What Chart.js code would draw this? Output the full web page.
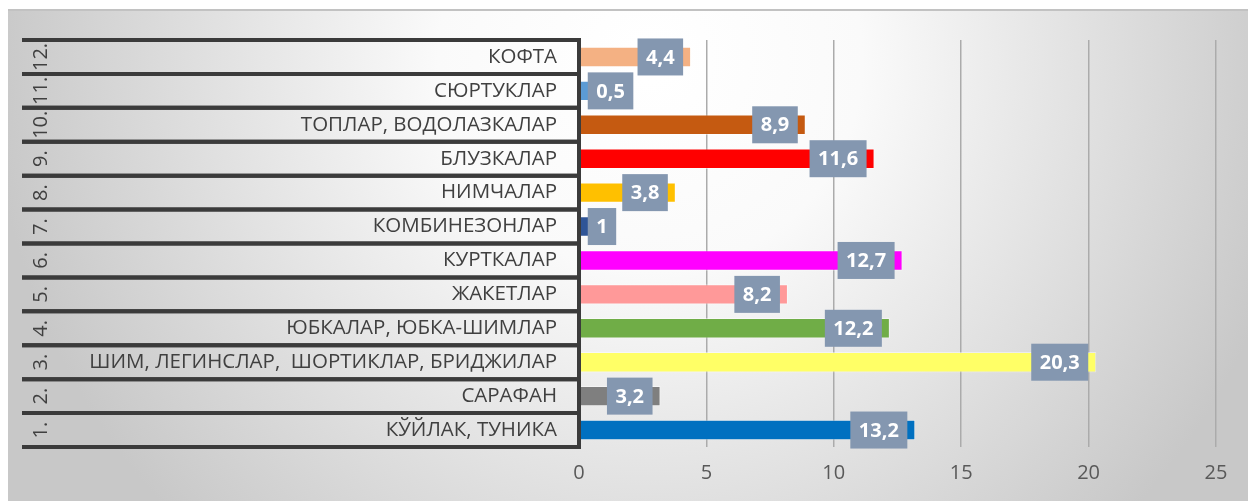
<!DOCTYPE html>
<html>
<head>
<meta charset="utf-8">
<script src="https://cdn.jsdelivr.net/npm/chart.js@4"></script>
<style>
  html, body { margin: 0; padding: 0; background: #ffffff; }
  #chart { display: block; }
</style>
</head>
<body>
<canvas id="chart" width="1248" height="501"></canvas>
<script>
// категориялар (1. дан 12. гача, пастдан юқорига)
const categories = [
    'КЎЙЛАК, ТУНИКА',
    'САРАФАН',
    'ШИМ, ЛЕГИНСЛАР,  ШОРТИКЛАР, БРИДЖИЛАР',
    'ЮБКАЛАР, ЮБКА-ШИМЛАР',
    'ЖАКЕТЛАР',
    'КУРТКАЛАР',
    'КОМБИНЕЗОНЛАР',
    'НИМЧАЛАР',
    'БЛУЗКАЛАР',
    'ТОПЛАР, ВОДОЛАЗКАЛАР',
    'СЮРТУКЛАР',
    'КОФТА'
];
const rowNumbers = ['1.', '2.', '3.', '4.', '5.', '6.', '7.', '8.', '9.', '10.', '11.', '12.'];
const values = [13.2, 3.2, 20.3, 12.2, 8.2, 12.7, 1, 3.8, 11.6, 8.9, 0.5, 4.4];
const barColors = [
    '#0070c0', '#7f7f7f', '#ffff66', '#70ad47', '#ff9999', '#ff00ff',
    '#2f5597', '#ffc000', '#ff0000', '#c55a11', '#5b9bd5', '#f4b183'
];
const xTicks = [0, 5, 10, 15, 20, 25];

const FONT = '"Open Sans", "DejaVu Sans", sans-serif';

// фон: кулранг-оқ градиент
const backgroundPlugin = {
    id: 'backgroundPlugin',
    beforeDraw(chart) {
        const ctx = chart.ctx;
        ctx.save();
        ctx.fillStyle = '#ffffff';
        ctx.fillRect(0, 0, chart.width, chart.height);
        const g = ctx.createRadialGradient(650, 60, 20, 650, 60, 660);
        g.addColorStop(0, '#ffffff');
        g.addColorStop(0.3, '#fafafa');
        g.addColorStop(1, '#c8c8c8');
        ctx.fillStyle = g;
        ctx.fillRect(8, 10, chart.width - 8, chart.height - 10);
        ctx.strokeStyle = '#c2c2c2';
        ctx.lineWidth = 2;
        ctx.beginPath();
        ctx.moveTo(8, 10);
        ctx.lineTo(chart.width, 10);
        ctx.stroke();
        ctx.restore();
    }
};

// чап томондаги жадвал чизиқлари ва рақамлар
const tablePlugin = {
    id: 'tablePlugin',
    afterDraw(chart) {
        const ctx = chart.ctx;
        const yScale = chart.scales.y;
        const area = chart.chartArea;
        const half = Math.abs(yScale.getPixelForValue(1) - yScale.getPixelForValue(0)) / 2;
        ctx.save();
        ctx.strokeStyle = '#3b3b3b';
        ctx.lineWidth = 4;
        for (let i = 0; i < categories.length; i++) {
            const c = yScale.getPixelForValue(i);
            [c - half, c + half].forEach(function (y) {
                ctx.beginPath();
                ctx.moveTo(22, y);
                ctx.lineTo(area.left + 2, y);
                ctx.stroke();
            });
        }
        ctx.beginPath();
        ctx.moveTo(area.left, area.top - 2);
        ctx.lineTo(area.left, area.bottom + 2);
        ctx.stroke();

        ctx.fillStyle = '#404040';
        ctx.font = '20px ' + FONT;
        ctx.textAlign = 'center';
        ctx.textBaseline = 'middle';
        for (let i = 0; i < rowNumbers.length; i++) {
            const c = yScale.getPixelForValue(i);
            ctx.save();
            ctx.translate(41, c);
            ctx.rotate(-Math.PI / 2);
            ctx.fillText(rowNumbers[i], 0, 0);
            ctx.restore();
        }
        ctx.restore();
    }
};

// қиймат ёрлиқлари (кулранг-кўк қутичалар)
const valueLabelPlugin = {
    id: 'valueLabelPlugin',
    afterDatasetsDraw(chart) {
        const ctx = chart.ctx;
        const meta = chart.getDatasetMeta(0);
        ctx.save();
        ctx.font = 'bold 20px ' + FONT;
        ctx.textAlign = 'center';
        ctx.textBaseline = 'middle';
        meta.data.forEach(function (bar, i) {
            const text = String(values[i]).replace('.', ',');
            const w = ctx.measureText(text).width + 17;
            const h = 37;
            const right = Math.max(bar.x - 8, bar.base + 8 + w);
            const left = right - w;
            ctx.fillStyle = '#8497b0';
            ctx.fillRect(left, bar.y - h / 2, w, h);
            ctx.fillStyle = '#ffffff';
            ctx.fillText(text, left + w / 2, bar.y + 1);
        });
        ctx.restore();
    }
};

const chart = new Chart(document.getElementById('chart'), {
    type: 'bar',
    data: {
        labels: categories,
        datasets: [{
            data: values,
            backgroundColor: barColors,
            borderColor: 'rgba(255,255,255,0.45)',
            borderWidth: 1,
            barPercentage: 0.6,
            categoryPercentage: 1
        }]
    },
    options: {
        indexAxis: 'y',
        responsive: false,
        animation: false,
        devicePixelRatio: 1,
        layout: { padding: { top: 40, right: 32, left: 0, bottom: 0 } },
        plugins: {
            legend: { display: false },
            tooltip: { enabled: false }
        },
        scales: {
            y: {
                type: 'category',
                reverse: true,
                offset: true,
                grid: { display: false },
                border: { display: false },
                ticks: {
                    color: '#404040',
                    font: { family: FONT, size: 20.5 },
                    padding: 14
                },
                afterFit(scale) { scale.width = 579; }
            },
            x: {
                min: 0,
                max: 25,
                afterBuildTicks(scale) { scale.ticks = xTicks.map(v => ({ value: v })); },
                grid: { color: '#ababab', lineWidth: 1.5, drawTicks: false },
                border: { display: false },
                ticks: {
                    color: '#595959',
                    font: { family: FONT, size: 20 },
                    padding: 14
                },
                afterFit(scale) { scale.height = 54; }
            }
        }
    },
    plugins: [backgroundPlugin, tablePlugin, valueLabelPlugin]
});
</script>
</body>
</html>
